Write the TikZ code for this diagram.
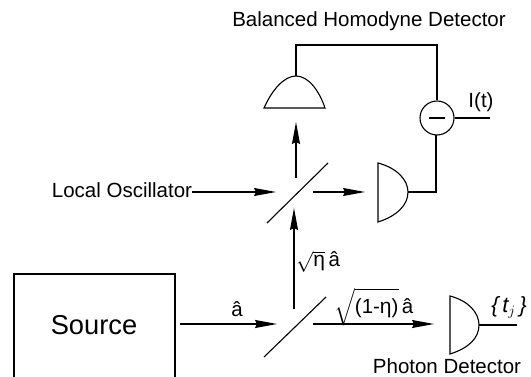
\documentclass[tikz,border=0pt]{standalone}
\usepackage{fontspec}
\usepackage{amsmath}
\setmainfont{Liberation Sans}
\usetikzlibrary{arrows.meta}
\newcommand{\etaup}{\mbox{\fontsize{21}{24}\selectfont η}}
\tikzset{
  x=1pt,y=-1pt,
  wire/.style={line width=1.1pt,line join=miter},
  arrowline/.style={wire,-{Stealth[length=22pt,width=8pt,inset=2pt]}},
  lbl/.style={inner sep=0pt,font=\fontsize{20.5}{24}\selectfont},
  minuscircle/.style={circle,draw,line width=1.1pt,minimum size=34pt,inner sep=0pt}
}
\begin{document}
\begin{tikzpicture}
\useasboundingbox (0,0) rectangle (531,377);
% named points
\coordinate (topA) at (296,178); \coordinate (topB) at (296,122);
\coordinate (loA) at (192,192); \coordinate (loB) at (276,192);
\coordinate (bsOutA) at (313,192); \coordinate (bsOutB) at (365,192);
\coordinate (upA) at (294,309); \coordinate (upB) at (294,208);
\coordinate (srcA) at (180,324); \coordinate (srcB) at (277,324);
\coordinate (phA) at (313,324); \coordinate (phB) at (434,324);
\coordinate (domeApex) at (296,76);
\coordinate (rightApex) at (408,192);
\coordinate (phApex) at (479,325);
\coordinate (iEnd) at (490,118);
\coordinate (tEnd) at (517,325);
% source box
\draw[wire] (14,377) -- (14,274) -- (175,274) -- (175,377);
\node[lbl,font=\fontsize{27.3}{30}\selectfont] (source) at (94,325) {Source};
% beam splitters
\draw[wire] (267,223) -- (328,163);
\draw[wire] (264,357) -- (326,297);
% detectors
\draw[wire] (264,108) .. controls (272,90) and (284,76) .. (domeApex) .. controls (308,76) and (319,90) .. (325,108) -- cycle;
\draw[wire] (378,163) .. controls (397,168) and (408,180) .. (rightApex) .. controls (408,205) and (397,216) .. (378,222) -- cycle;
\draw[wire] (450,296) .. controls (469,301) and (479,313) .. (phApex) .. controls (479,338) and (469,348) .. (450,354) -- cycle;
% subtractor
\node[minuscircle] (sub) at (437,118) {};
\draw[wire] (429,118) -- (445,118);
% wires
\draw[wire] (domeApex) -- (296,45) -- (437,45) -- (sub.north);
\draw[wire] (rightApex) -- (436,192) -- (436,135);
\draw[wire] (sub.east) -- (iEnd);
\draw[wire] (phApex) -- (tEnd);
% arrows
\draw[arrowline] (topA) -- (topB);
\draw[arrowline] (loA) -- (loB);
\draw[arrowline] (bsOutA) -- (bsOutB);
\draw[arrowline] (upA) -- (upB);
\draw[arrowline] (srcA) -- (srcB);
\draw[arrowline] (phA) -- (phB);
% labels
\node[lbl] (title) at (369,21) {Balanced Homodyne Detector};
\node[lbl] (lo) at (122,190) {Local Oscillator};
\node[lbl] (it) at (481,102) {I(t)};
\node[lbl] (a1) at (237,309) {â};
\node[lbl,anchor=west] (a2) at (296,262) {$\sqrt{\etaup}$\,â};
\node[lbl,anchor=west] (a3) at (334,307) {$\sqrt{\mbox{(1-\etaup)}\vphantom{\big(}}$\,â};
\node[lbl,font=\fontsize{22}{24}\itshape\selectfont] (tj) at (509,307) {\{\,t$_j$\,\}};
\node[lbl] (pd) at (447,366) {Photon Detector};
\end{tikzpicture}
\end{document}
